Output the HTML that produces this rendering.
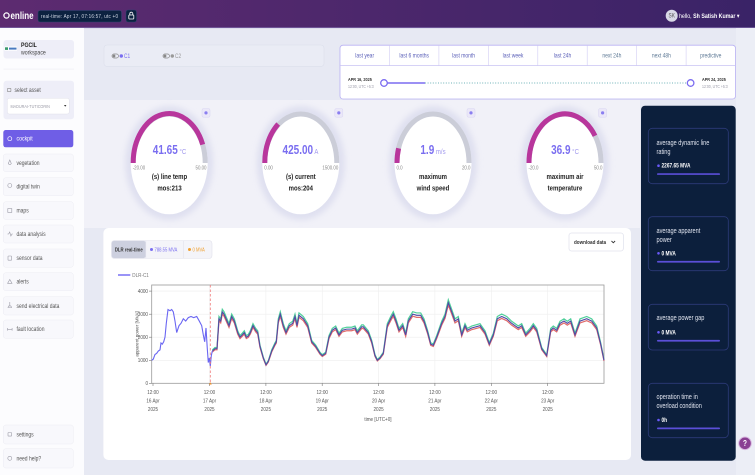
<!DOCTYPE html>
<html><head><meta charset="utf-8">
<style>
html,body{margin:0;padding:0;width:755px;height:475px;overflow:hidden;background:#e7e9f3}
svg{display:block;font-family:"Liberation Sans",sans-serif}
svg text:not(.r){transform-box:fill-box;transform-origin:center;transform:scaleY(1.25)}
</style></head><body>
<svg width="755" height="475" viewBox="0 0 755 475" xmlns="http://www.w3.org/2000/svg">
<defs>
<linearGradient id="tb" x1="0" x2="1" y1="0" y2="0"><stop offset="0" stop-color="#5d2b70"/><stop offset="1" stop-color="#3a2367"/></linearGradient>
<filter id="blur" x="-30%" y="-30%" width="160%" height="160%"><feGaussianBlur stdDeviation="3"/></filter>
</defs>
<rect width="755" height="475" fill="#e7e9f3"/>

<!-- top bar -->
<rect x="0" y="0" width="755" height="28" fill="url(#tb)"/>
<rect x="0" y="27.3" width="755" height="0.8" fill="#7c68a8"/>
<circle cx="6.5" cy="15.5" r="2.6" fill="none" stroke="#fff" stroke-width="1.3"/>
<text x="10.5" y="18.5" font-size="8" font-weight="bold" fill="#fff">enline</text>
<rect x="38" y="10.5" width="83.5" height="11.5" rx="2" fill="#0c2240" stroke="#2f4571" stroke-width="0.5"/>
<text x="41" y="17.8" font-size="4.6" fill="#d5dbe8" textLength="77">real-time: Apr 17, 07:16:57, utc +0</text>
<rect x="126" y="10" width="10.5" height="12" rx="2" fill="#0c2240" stroke="#2f4571" stroke-width="0.5"/>
<rect x="128.8" y="15" width="5" height="4" rx="0.6" fill="none" stroke="#fff" stroke-width="0.8"/>
<path d="M129.8 15 v-1.3 a1.5 1.5 0 0 1 3 0 v1.3" fill="none" stroke="#fff" stroke-width="0.8"/>
<circle cx="671.7" cy="15.7" r="6" fill="#d9d9e6"/>
<text x="671.7" y="17.4" font-size="4.8" text-anchor="middle" fill="#555">SK</text>
<text x="679" y="17.8" font-size="5.3" fill="#fff">hello, <tspan font-weight="bold">Sh Satish Kumar</tspan> ▾</text>

<!-- sidebar -->
<rect x="0" y="28" width="84" height="447" fill="#fcfcfe"/>
<rect x="3.5" y="40" width="70.5" height="18.5" rx="3" fill="#eeeef8"/>
<rect x="4.5" y="46.5" width="12.5" height="4.2" fill="#fff"/>
<rect x="5" y="47.3" width="3" height="2.6" fill="#3a9a6a"/>
<rect x="9" y="47.6" width="7.5" height="2" fill="#4a7ac0"/>
<text x="21" y="47" font-size="5.2" font-weight="bold" fill="#222">PGCIL</text>
<text x="21" y="54.2" font-size="5.2" fill="#444">workspace</text>
<rect x="3.5" y="68.8" width="70.5" height="0.6" fill="#ececf2"/>

<rect x="3.5" y="80.7" width="70.5" height="38.6" rx="3" fill="#eeeef8"/>
<rect x="7.5" y="88.3" width="3.4" height="3.4" rx="0.5" fill="none" stroke="#888" stroke-width="0.6"/>
<text x="14.5" y="92" font-size="5" fill="#555">select asset</text>
<rect x="7.3" y="98.3" width="62" height="15.7" rx="2" fill="#fff" stroke="#e0e0ea" stroke-width="0.5"/>
<text x="10.5" y="107.6" font-size="3.8" fill="#9a9aa6">MADURAI-TUTICORIN</text>
<path d="M64 105 l2.4 0 l-1.2 1.7z" fill="#333"/>

<rect x="3.3" y="130" width="70" height="17.3" rx="2.5" fill="#6f5ee6"/>
<circle cx="9.8" cy="138.7" r="2" fill="none" stroke="#fff" stroke-width="0.7"/>
<text x="16.5" y="140.4" font-size="5.2" fill="#fff">cockpit</text>

<g fill="#f8f8fc" stroke="#ececf3" stroke-width="0.5">
<rect x="3.3" y="154" width="70" height="17.7" rx="2.5"/>
<rect x="3.3" y="177.7" width="70" height="18" rx="2.5"/>
<rect x="3.3" y="201.7" width="70" height="17.7" rx="2.5"/>
<rect x="3.3" y="225" width="70" height="18" rx="2.5"/>
<rect x="3.3" y="249" width="70" height="18.3" rx="2.5"/>
<rect x="3.3" y="272.7" width="70" height="18" rx="2.5"/>
<rect x="3.3" y="296.7" width="70" height="18.3" rx="2.5"/>
<rect x="3.3" y="320" width="70" height="18.3" rx="2.5"/>
<rect x="3.3" y="425" width="70" height="19" rx="2.5"/>
<rect x="3.3" y="448.7" width="70" height="19.3" rx="2.5"/>
</g>
<g fill="none" stroke="#9a9aa6" stroke-width="0.6">
<path d="M9.8 160 l-1.5 3.5 a1.6 1.6 0 0 0 3 0z"/>
<circle cx="9.8" cy="185.5" r="2"/>
<rect x="7.8" y="208.6" width="4" height="3.8"/>
<path d="M7.5 234 l1.2 0 l1 -2 l1.2 4 l1 -2 l1 0"/>
<rect x="8" y="256" width="3.6" height="4.2" rx="0.5"/>
<path d="M9.8 279.5 l2.2 3.8 l-4.4 0z"/>
<path d="M8 307.5 l3.6 0 l-0.8 -1.6 l-2 0z M9.8 302 v4"/>
<path d="M7.5 329.3 h4.6 M7.5 328 v2.6 M12.1 328 v2.6"/>
<rect x="8" y="432.5" width="3.6" height="3.6" rx="0.5"/>
<circle cx="9.8" cy="458.3" r="2"/>
</g>
<g font-size="5" fill="#555">
<text x="16.5" y="164.7">vegetation</text>
<text x="16.5" y="188.5">digital twin</text>
<text x="16.5" y="212.3">maps</text>
<text x="16.5" y="235.8">data analysis</text>
<text x="16.5" y="260">sensor data</text>
<text x="16.5" y="283.5">alerts</text>
<text x="16.5" y="307.8">send electrical data</text>
<text x="16.5" y="331">fault location</text>
<text x="16.5" y="436.3">settings</text>
<text x="16.5" y="460.3">need help?</text>
</g>

<!-- toggles panel -->
<rect x="104" y="45" width="220" height="21.4" rx="3" fill="#eaecf5" stroke="#dcdfeb" stroke-width="0.6"/>
<rect x="112" y="54" width="6.5" height="4" rx="2" fill="none" stroke="#888" stroke-width="0.7"/>
<circle cx="114" cy="56" r="1.4" fill="#888"/>
<circle cx="121.3" cy="56" r="1.7" fill="#7a6ef0"/>
<text x="124" y="57.8" font-size="4.8" fill="#7a6ef0">C1</text>
<rect x="163" y="54" width="6.5" height="4" rx="2" fill="none" stroke="#888" stroke-width="0.7"/>
<circle cx="165" cy="56" r="1.4" fill="#888"/>
<circle cx="172.3" cy="56" r="1.7" fill="#999"/>
<text x="175" y="57.8" font-size="4.8" fill="#999">C2</text>

<!-- time panel -->
<rect x="340" y="45.2" width="395.5" height="53.8" rx="3" fill="#fff" stroke="#b9b1f3" stroke-width="0.8"/>
<line x1="340" y1="65.6" x2="735.5" y2="65.6" stroke="#c9c3f3" stroke-width="0.7"/>
<g stroke="#d2cdf4" stroke-width="0.6">
<line x1="389.4" y1="45.2" x2="389.4" y2="65.6"/><line x1="438.9" y1="45.2" x2="438.9" y2="65.6"/>
<line x1="488.3" y1="45.2" x2="488.3" y2="65.6"/><line x1="537.8" y1="45.2" x2="537.8" y2="65.6"/>
<line x1="587.2" y1="45.2" x2="587.2" y2="65.6"/><line x1="636.6" y1="45.2" x2="636.6" y2="65.6"/>
<line x1="686.1" y1="45.2" x2="686.1" y2="65.6"/>
</g>
<g font-size="5" fill="#5a5fb8" text-anchor="middle">
<text x="364.7" y="57.5">last year</text>
<text x="414.2" y="57.5">last 6 months</text>
<text x="463.6" y="57.5">last month</text>
<text x="513" y="57.5">last week</text>
<text x="562.5" y="57.5">last 24h</text>
<text x="611.9" y="57.5" fill="#5f7a96">next 24h</text>
<text x="661.4" y="57.5" fill="#5f7a96">next 48h</text>
<text x="710.8" y="57.5" fill="#5f7a96">predictive</text>
</g>
<text x="348" y="80.5" font-size="3.8" font-weight="bold" fill="#333">APR 16, 2025</text>
<text x="348" y="87.8" font-size="3.5" fill="#9a9aa8">12:00, UTC +5:3</text>
<text x="702" y="80.5" font-size="3.8" font-weight="bold" fill="#333">APR 24, 2025</text>
<text x="702" y="87.8" font-size="3.5" fill="#9a9aa8">12:00, UTC +5:3</text>
<line x1="425" y1="83" x2="688" y2="83" stroke="#6fb3b8" stroke-width="1" stroke-dasharray="1 1.6"/>
<line x1="384" y1="83" x2="425" y2="83" stroke="#7b6cf0" stroke-width="1.4"/>
<circle cx="384" cy="83" r="3.3" fill="#fff" stroke="#7b6cf0" stroke-width="1.3"/>
<circle cx="690.6" cy="83" r="3.3" fill="#fff" stroke="#7b6cf0" stroke-width="1.3"/>

<!-- gauge section -->
<rect x="84" y="100" width="556" height="128" fill="#f1f1f8"/>
<g>
<ellipse cx="169.2" cy="163" rx="44" ry="57" fill="#dfe0f0" filter="url(#blur)"/>
<ellipse cx="300.8" cy="163" rx="44" ry="57" fill="#dfe0f0" filter="url(#blur)"/>
<ellipse cx="433" cy="163" rx="44" ry="57" fill="#dfe0f0" filter="url(#blur)"/>
<ellipse cx="565" cy="163" rx="44" ry="57" fill="#dfe0f0" filter="url(#blur)"/>
</g>
<g fill="#fff">
<ellipse cx="169.2" cy="163" rx="38.5" ry="51.3"/>
<ellipse cx="300.8" cy="163" rx="38.5" ry="51.3"/>
<ellipse cx="433" cy="163" rx="38.5" ry="51.3"/>
<ellipse cx="565" cy="163" rx="38.5" ry="51.3"/>
</g>
<g fill="none" stroke="#cbcdd8" stroke-width="5">
<path d="M133.2 163 A36 49 0 0 1 205.2 163"/>
<path d="M264.8 163 A36 49 0 0 1 336.8 163"/>
<path d="M397 163 A36 49 0 0 1 469 163"/>
<path d="M529 163 A36 49 0 0 1 601 163"/>
</g>
<g fill="none" stroke="#b8369c" stroke-width="5">
<path d="M133.2 163 A36 49 0 0 1 202.7 144.6"/>
<path d="M264.8 163 A36 49 0 0 1 278.2 124.1"/>
<path d="M397 163 A36 49 0 0 1 398.6 148.3"/>
<path d="M529 163 A36 49 0 0 1 595 135.8"/>
</g>
<g fill="#ebe8f8" stroke="#d8d4f2" stroke-width="0.5">
<rect x="202" y="108.6" width="8" height="8.6" rx="1.5"/>
<rect x="334.8" y="108.6" width="8" height="8.6" rx="1.5"/>
<rect x="467" y="108.6" width="8" height="8.6" rx="1.5"/>
<rect x="598.6" y="108.6" width="8" height="8.6" rx="1.5"/>
</g>
<g fill="#8b7ff0">
<circle cx="206" cy="112.9" r="1.6"/><circle cx="338.8" cy="112.9" r="1.6"/>
<circle cx="471" cy="112.9" r="1.6"/><circle cx="602.6" cy="112.9" r="1.6"/>
</g>
<g font-size="10" font-weight="bold" fill="#7a6ef0" text-anchor="middle">
<text x="169.5" y="153.5">41.65<tspan font-size="6" font-weight="normal" fill="#a29aee"> °C</tspan></text>
<text x="300.5" y="153.5">425.00<tspan font-size="6" font-weight="normal" fill="#a29aee"> A</tspan></text>
<text x="433" y="153.5">1.9<tspan font-size="6" font-weight="normal" fill="#a29aee"> m/s</tspan></text>
<text x="565" y="153.5">36.9<tspan font-size="6" font-weight="normal" fill="#a29aee"> °C</tspan></text>
</g>
<g font-size="4.4" fill="#888">
<text x="132.7" y="169.5">-20.00</text><text x="206.5" y="169.5" text-anchor="end">50.00</text>
<text x="264.3" y="169.5">0.00</text><text x="338.3" y="169.5" text-anchor="end">1500.00</text>
<text x="396.5" y="169.5">0.0</text><text x="470.5" y="169.5" text-anchor="end">20.0</text>
<text x="528.5" y="169.5">-20.0</text><text x="602.5" y="169.5" text-anchor="end">50.0</text>
</g>
<g font-size="6" font-weight="bold" fill="#222" text-anchor="middle">
<text x="169.5" y="178.6">(s) line temp</text><text x="169.5" y="190">mos:213</text>
<text x="300.8" y="178.6">(s) current</text><text x="300.8" y="190">mos:204</text>
<text x="433" y="178.6">maximum</text><text x="433" y="190">wind speed</text>
<text x="565" y="178.6">maximum air</text><text x="565" y="190">temperature</text>
</g>

<!-- chart card -->
<rect x="103.4" y="228" width="527.6" height="232" rx="5" fill="#fff"/>
<rect x="111.4" y="240.5" width="100.6" height="18" rx="3" fill="#f4f4f9" stroke="#e2e2ec" stroke-width="0.6"/>
<rect x="111.8" y="240.9" width="34" height="17.2" rx="2.5" fill="#cdd0df"/>
<text x="128.8" y="251.3" font-size="4.3" font-weight="bold" fill="#333" text-anchor="middle">DLR real-time</text>
<line x1="145.8" y1="241" x2="145.8" y2="258" stroke="#e2e2ec" stroke-width="0.6"/>
<line x1="183.7" y1="241" x2="183.7" y2="258" stroke="#e2e2ec" stroke-width="0.6"/>
<circle cx="151.5" cy="249.5" r="1.5" fill="#7a6ef0"/>
<text x="154.5" y="251.2" font-size="4.2" fill="#7a6ef0">788.55 MVA</text>
<circle cx="189.5" cy="249.5" r="1.5" fill="#f0a030"/>
<text x="192.5" y="251.2" font-size="4.2" fill="#f0a030">0 MVA</text>
<rect x="569" y="233" width="54.4" height="18" rx="2.5" fill="#fff" stroke="#e3e4ee" stroke-width="0.8"/>
<text x="574" y="243.8" font-size="4.6" font-weight="bold" fill="#333">download data</text>
<path d="M611.5 241 l1.8 1.8 l1.8 -1.8" fill="none" stroke="#333" stroke-width="0.9"/>

<line x1="118" y1="275" x2="130.3" y2="275" stroke="#8f88f6" stroke-width="1.8"/>
<text x="132.3" y="276.6" font-size="4.6" fill="#777">DLR-C1</text>

<!-- plot -->
<g stroke="#eeeeee" stroke-width="0.6">
<line x1="151.7" y1="291.1" x2="604" y2="291.1"/>
<line x1="151.7" y1="314.2" x2="604" y2="314.2"/>
<line x1="151.7" y1="337.2" x2="604" y2="337.2"/>
<line x1="151.7" y1="360.3" x2="604" y2="360.3"/>
<line x1="209.5" y1="285" x2="209.5" y2="383.3"/>
<line x1="265.9" y1="285" x2="265.9" y2="383.3"/>
<line x1="322.2" y1="285" x2="322.2" y2="383.3"/>
<line x1="378.6" y1="285" x2="378.6" y2="383.3"/>
<line x1="434.9" y1="285" x2="434.9" y2="383.3"/>
<line x1="491.3" y1="285" x2="491.3" y2="383.3"/>
<line x1="547.7" y1="285" x2="547.7" y2="383.3"/>
</g>
<rect x="151.7" y="285" width="452.3" height="98.3" fill="none" stroke="#9a9a9a" stroke-width="0.8"/>
<g stroke="#777" stroke-width="0.6">
<line x1="149" y1="291.1" x2="151.7" y2="291.1"/><line x1="149" y1="314.2" x2="151.7" y2="314.2"/>
<line x1="149" y1="337.2" x2="151.7" y2="337.2"/><line x1="149" y1="360.3" x2="151.7" y2="360.3"/>
<line x1="149" y1="383.3" x2="151.7" y2="383.3"/>
<line x1="153" y1="383.3" x2="153" y2="386"/><line x1="209.5" y1="383.3" x2="209.5" y2="386"/>
<line x1="265.9" y1="383.3" x2="265.9" y2="386"/><line x1="322.2" y1="383.3" x2="322.2" y2="386"/>
<line x1="378.6" y1="383.3" x2="378.6" y2="386"/><line x1="434.9" y1="383.3" x2="434.9" y2="386"/>
<line x1="491.3" y1="383.3" x2="491.3" y2="386"/><line x1="547.7" y1="383.3" x2="547.7" y2="386"/>
</g>
<g font-size="4.6" fill="#555" text-anchor="end">
<text x="148" y="292.8">4000</text><text x="148" y="315.9">3000</text>
<text x="148" y="338.9">2000</text><text x="148" y="362">1000</text><text x="148" y="385">0</text>
</g>
<text class="r" transform="translate(138.5 334) rotate(-90)" font-size="4.6" fill="#555" text-anchor="middle">apparent power [MVA]</text>
<g font-size="4.6" fill="#555" text-anchor="middle">
<text x="153" y="394">12:00</text><text x="153" y="402.5">16 Apr</text><text x="153" y="411">2025</text>
<text x="209.5" y="394">12:00</text><text x="209.5" y="402.5">17 Apr</text><text x="209.5" y="411">2025</text>
<text x="265.9" y="394">12:00</text><text x="265.9" y="402.5">18 Apr</text><text x="265.9" y="411">2025</text>
<text x="322.2" y="394">12:00</text><text x="322.2" y="402.5">19 Apr</text><text x="322.2" y="411">2025</text>
<text x="378.6" y="394">12:00</text><text x="378.6" y="402.5">20 Apr</text><text x="378.6" y="411">2025</text>
<text x="434.9" y="394">12:00</text><text x="434.9" y="402.5">21 Apr</text><text x="434.9" y="411">2025</text>
<text x="491.3" y="394">12:00</text><text x="491.3" y="402.5">22 Apr</text><text x="491.3" y="411">2025</text>
<text x="547.7" y="394">12:00</text><text x="547.7" y="402.5">23 Apr</text><text x="547.7" y="411">2025</text>
<text x="378" y="421">time [UTC+0]</text>
</g>

<g transform="translate(0 383.3) scale(1 -0.02386)">
<polyline vector-effect="non-scaling-stroke" fill="none" stroke="#4fcf9a" stroke-width="1.2" points="212.3,1400 215,1500 217,1500 219,2800 220.7,2700 222.3,3100 224,3000 226,2800 229,2500 231.7,2900 234.3,2700 237.7,2200 240,2000 242.3,2100 244.3,2200 246.3,2000 248.3,2050 250.3,2200 253,2500 255.7,2300 257.7,2200 260,1600 263.3,1100 266,800 268.3,950 271.7,1400 275,1700 276.3,1800 278.3,2700 280.3,3000 283.3,2500 286,2200 289.3,2500 292.7,2600 295,2900 297,2500 299,2950 303.3,2800 307.7,2500 311.7,1800 315.7,1600 320,1300 322.3,1200 325.7,1300 329,2000 332.3,2300 335.7,2400 339,2100 342.3,2300 346.7,2350 351.7,2350 355,2400 357.3,2200 361.7,2450 363.3,2450 368.3,2200 371.7,1800 375,1200 377.3,1000 380,1100 383.3,1300 387.3,2500 390.7,2800 393.3,3000 396,2700 399,2300 402.7,2500 405.7,2100 408.3,2700 412.7,3000 416.7,2950 420.7,2950 424,2700 427.7,2200 430.7,1700 433.3,1650 436.7,2000 441.7,2600 445,2900 448.3,3500 451.7,3100 455,2700 458.3,2800 461.7,2100 465,2500 467.3,2300 471.7,2400 480,2500 485,2200 489.3,1700 493.3,2100 497.3,2800 501.7,2900 506.7,2800 511.7,2600 515,2500 518.3,2400 521.7,2500 525.7,2100 530,2300 533.3,2500 536.7,2300 541.7,1500 546.7,1200 550.7,2300 553.3,2400 556.7,2300 560,2600 564,2700 567.3,2600 570.7,2700 575,2100 580,2700 586.7,2800 591.7,2700 596.7,2400 600.7,1700 604,1000"/>
</g>
<g transform="translate(0 383.3) scale(1 -0.02236)">
<polyline vector-effect="non-scaling-stroke" fill="none" stroke="#e06b6b" stroke-width="1.2" points="212.3,1400 215,1500 217,1500 219,2800 220.7,2700 222.3,3100 224,3000 226,2800 229,2500 231.7,2900 234.3,2700 237.7,2200 240,2000 242.3,2100 244.3,2200 246.3,2000 248.3,2050 250.3,2200 253,2500 255.7,2300 257.7,2200 260,1600 263.3,1100 266,800 268.3,950 271.7,1400 275,1700 276.3,1800 278.3,2700 280.3,3000 283.3,2500 286,2200 289.3,2500 292.7,2600 295,2900 297,2500 299,2950 303.3,2800 307.7,2500 311.7,1800 315.7,1600 320,1300 322.3,1200 325.7,1300 329,2000 332.3,2300 335.7,2400 339,2100 342.3,2300 346.7,2350 351.7,2350 355,2400 357.3,2200 361.7,2450 363.3,2450 368.3,2200 371.7,1800 375,1200 377.3,1000 380,1100 383.3,1300 387.3,2500 390.7,2800 393.3,3000 396,2700 399,2300 402.7,2500 405.7,2100 408.3,2700 412.7,3000 416.7,2950 420.7,2950 424,2700 427.7,2200 430.7,1700 433.3,1650 436.7,2000 441.7,2600 445,2900 448.3,3500 451.7,3100 455,2700 458.3,2800 461.7,2100 465,2500 467.3,2300 471.7,2400 480,2500 485,2200 489.3,1700 493.3,2100 497.3,2800 501.7,2900 506.7,2800 511.7,2600 515,2500 518.3,2400 521.7,2500 525.7,2100 530,2300 533.3,2500 536.7,2300 541.7,1500 546.7,1200 550.7,2300 553.3,2400 556.7,2300 560,2600 564,2700 567.3,2600 570.7,2700 575,2100 580,2700 586.7,2800 591.7,2700 596.7,2400 600.7,1700 604,1000"/>
</g>
<g transform="translate(0 383.3) scale(1 -0.02305)">
<polyline vector-effect="non-scaling-stroke" fill="none" stroke="#4f4aa6" stroke-width="1.1" points="212.3,1400 215,1500 217,1500 219,2800 220.7,2700 222.3,3100 224,3000 226,2800 229,2500 231.7,2900 234.3,2700 237.7,2200 240,2000 242.3,2100 244.3,2200 246.3,2000 248.3,2050 250.3,2200 253,2500 255.7,2300 257.7,2200 260,1600 263.3,1100 266,800 268.3,950 271.7,1400 275,1700 276.3,1800 278.3,2700 280.3,3000 283.3,2500 286,2200 289.3,2500 292.7,2600 295,2900 297,2500 299,2950 303.3,2800 307.7,2500 311.7,1800 315.7,1600 320,1300 322.3,1200 325.7,1300 329,2000 332.3,2300 335.7,2400 339,2100 342.3,2300 346.7,2350 351.7,2350 355,2400 357.3,2200 361.7,2450 363.3,2450 368.3,2200 371.7,1800 375,1200 377.3,1000 380,1100 383.3,1300 387.3,2500 390.7,2800 393.3,3000 396,2700 399,2300 402.7,2500 405.7,2100 408.3,2700 412.7,3000 416.7,2950 420.7,2950 424,2700 427.7,2200 430.7,1700 433.3,1650 436.7,2000 441.7,2600 445,2900 448.3,3500 451.7,3100 455,2700 458.3,2800 461.7,2100 465,2500 467.3,2300 471.7,2400 480,2500 485,2200 489.3,1700 493.3,2100 497.3,2800 501.7,2900 506.7,2800 511.7,2600 515,2500 518.3,2400 521.7,2500 525.7,2100 530,2300 533.3,2500 536.7,2300 541.7,1500 546.7,1200 550.7,2300 553.3,2400 556.7,2300 560,2600 564,2700 567.3,2600 570.7,2700 575,2100 580,2700 586.7,2800 591.7,2700 596.7,2400 600.7,1700 604,1000"/>
<polyline vector-effect="non-scaling-stroke" fill="none" stroke="#6a66f2" stroke-width="1.1" points="151.7,1000 153.3,1050 155,1250 156.7,1300 158.3,1400 160,1450 161,1750 162.3,1700 163.7,1800 165,2000 166.3,2600 168,3200 170,3150 171.7,3200 173.3,3100 175,2700 176.7,2200 179,2500 181,2600 183.3,2800 185.7,2700 188.3,2850 191,2900 193.7,2850 196.7,2900 199.3,2700 201.7,2500 203.3,2100 204.7,1800 206,2400 207.3,1500 208.3,900 209.3,1100 210.3,750 211.3,1200 212.3,1400"/>
</g>
<line x1="210.3" y1="285" x2="210.3" y2="383.3" stroke="#f07a7a" stroke-width="0.8" stroke-dasharray="2.5 2"/>
<path d="M208.8 384.5 l1.5 -2.2 l1.5 2.2z" fill="#f0902a"/>

<!-- right dark panel -->
<rect x="736" y="28" width="19" height="447" fill="#eceef6"/>
<rect x="641" y="105.7" width="94.7" height="355" rx="4" fill="#0c1f3c"/>
<g fill="none" stroke="#2c3a78" stroke-width="0.8">
<rect x="648.3" y="128.3" width="80" height="55.4" rx="4"/>
<rect x="648.3" y="216.7" width="80" height="54" rx="4"/>
<rect x="648.3" y="304.3" width="80" height="45.7" rx="4"/>
<rect x="648.3" y="383.3" width="80" height="54.4" rx="4"/>
</g>
<g font-size="5.6" fill="#dfe3ee">
<text x="656.5" y="144.5">average dynamic line</text><text x="656.5" y="153.5">rating</text>
<text x="656.5" y="232.5">average apparent</text><text x="656.5" y="241.8">power</text>
<text x="656.5" y="319.5">average power gap</text>
<text x="656.5" y="398.5">operation time in</text><text x="656.5" y="407.8">overload condition</text>
</g>
<g fill="#6a5af9">
<circle cx="658.5" cy="165.7" r="1.3"/><circle cx="658.5" cy="253.3" r="1.3"/>
<circle cx="658.5" cy="332.3" r="1.3"/><circle cx="658.5" cy="420" r="1.3"/>
</g>
<g font-size="4.8" font-weight="bold" fill="#fff">
<text x="661.5" y="167.5">2267.65 MVA</text>
<text x="661.5" y="255.1">0 MVA</text>
<text x="661.5" y="334.1">0 MVA</text>
<text x="661.5" y="421.8">0h</text>
</g>
<g fill="#5b4fd8">
<rect x="657" y="173.2" width="63" height="1.7" rx="0.8"/>
<rect x="657" y="260.9" width="63" height="1.7" rx="0.8"/>
<rect x="657" y="339.9" width="63" height="1.7" rx="0.8"/>
<rect x="657" y="427.5" width="63" height="1.7" rx="0.8"/>
</g>
<circle cx="745" cy="443.3" r="6.3" fill="#8a3f93" stroke="#d9b8e0" stroke-width="1"/>
<text x="745" y="445.6" font-size="6.5" font-weight="bold" fill="#fff" text-anchor="middle">?</text>
</svg>
</body></html>
